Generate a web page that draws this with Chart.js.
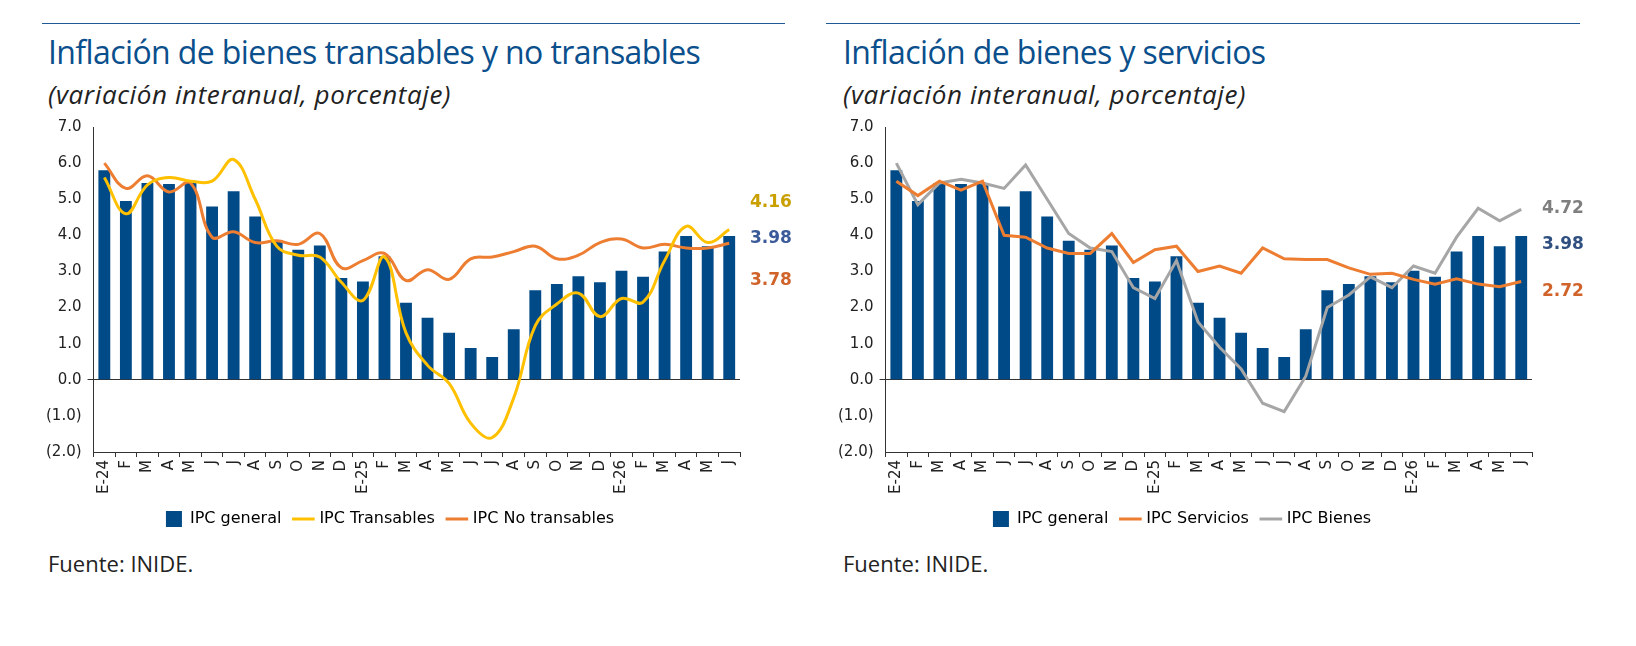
<!DOCTYPE html>
<html><head><meta charset="utf-8">
<script src="https://cdn.jsdelivr.net/npm/chart.js@4"></script>
<style>
body{margin:0;background:#fff;width:1636px;height:646px;position:relative;font-family:"DejaVu Sans",sans-serif;}
.rule{position:absolute;top:23px;height:1px;background:#1f5a96;}
.title{position:absolute;top:30px;font-family:"Open Sans",sans-serif;font-size:32px;color:#0b4f8c;letter-spacing:-0.6px;}
.sub{position:absolute;top:76px;font-family:"Open Sans",sans-serif;font-style:italic;font-size:26px;color:#222;letter-spacing:0.6px;}
.src{position:absolute;top:548px;font-family:"Open Sans",sans-serif;font-size:22px;color:#222;}
.box{position:absolute;top:112px;width:770px;height:425px;}
</style></head><body>
<div class="rule" style="left:42px;width:743px"></div>
<div class="title" style="left:48px">Inflación de bienes transables y no transables</div>
<div class="sub" style="left:48px">(variación interanual, porcentaje)</div>
<div class="box" style="left:40px"><canvas id="c1"></canvas></div>
<div class="src" style="left:48px">Fuente: INIDE.</div>

<div class="rule" style="left:826px;width:754px"></div>
<div class="title" style="left:843px">Inflación de bienes y servicios</div>
<div class="sub" style="left:843px">(variación interanual, porcentaje)</div>
<div class="box" style="left:832px"><canvas id="c2"></canvas></div>
<div class="src" style="left:843px">Fuente: INIDE.</div>
<script>
const months = ['E-24','F','M','A','M','J','J','A','S','O','N','D','E-25','F','M','A','M','J','J','A','S','O','N','D','E-26','F','M','A','M','J'];
const ipcGeneral = [5.8,4.95,5.45,5.42,5.45,4.8,5.22,4.52,3.85,3.6,3.72,2.82,2.72,3.42,2.13,1.72,1.3,0.88,0.63,1.4,2.48,2.65,2.87,2.7,3.02,2.85,3.55,3.98,3.7,3.98];
const ipcTransables = [5.6,4.6,5.4,5.6,5.5,5.5,6.1,5.0,3.7,3.45,3.4,2.7,2.2,3.4,1.3,0.4,-0.1,-1.2,-1.6,-0.5,1.5,2.1,2.4,1.75,2.25,2.15,3.3,4.25,3.8,4.16];
const ipcNoTransables = [6.0,5.3,5.65,5.2,5.45,3.95,4.1,3.8,3.85,3.75,4.05,3.1,3.3,3.5,2.75,3.05,2.78,3.35,3.4,3.55,3.7,3.35,3.45,3.8,3.9,3.65,3.75,3.65,3.65,3.78];
const ipcServicios = [5.5,5.1,5.5,5.25,5.5,4.0,3.95,3.65,3.5,3.5,4.05,3.25,3.6,3.7,3.0,3.15,2.95,3.65,3.35,3.33,3.33,3.1,2.92,2.95,2.78,2.65,2.8,2.65,2.58,2.72];
const ipcBienes = [6.0,4.85,5.45,5.55,5.45,5.3,5.95,5.0,4.05,3.65,3.55,2.55,2.25,3.3,1.6,0.9,0.3,-0.65,-0.88,0.1,2.0,2.35,2.85,2.55,3.15,2.95,3.95,4.75,4.4,4.72];

const tickFont = {family:'DejaVu Sans', size:15};
const endLabels = {
  id:'endLabels',
  afterDatasetsDraw(chart, args, opts){
    const ctx = chart.ctx, y = chart.scales.y;
    ctx.save();
    ctx.font = 'bold 17px "DejaVu Sans"';
    ctx.textBaseline = 'middle';
    opts.items.forEach(it => {
      ctx.fillStyle = it.color;
      ctx.fillText(it.text, chart.chartArea.right + 10, y.getPixelForValue(it.at));
    });
    ctx.restore();
  }
};
function makeChart(id, lines, labels, tension){
  const datasets = lines.map(l => ({type:'line', label:l.label, data:l.data, borderColor:l.color,
      backgroundColor:l.color, borderWidth:3, pointRadius:0, tension:tension, order:1}));
  datasets.push({type:'bar', label:'IPC general', data:ipcGeneral, backgroundColor:'#004a87',
      barPercentage:0.55, categoryPercentage:1, order:2});
  datasets.unshift(datasets.pop());
  new Chart(document.getElementById(id), {
    data:{labels:months, datasets},
    plugins:[endLabels],
    options:{
      responsive:true, maintainAspectRatio:false, animation:false,
      layout:{padding:{right:70, top:6}},
      plugins:{
        endLabels:{items:labels},
        tooltip:{enabled:false},
        legend:{position:'bottom', labels:{usePointStyle:true, padding:14, font:{family:'DejaVu Sans', size:16}, color:'#222',
          generateLabels(chart){
            return chart.data.datasets.map((d,i) => ({text:d.label, fillStyle:d.backgroundColor,
              strokeStyle:d.backgroundColor, lineWidth:d.type==='bar'?0:3,
              pointStyle:d.type==='bar'?'rect':'line', datasetIndex:i}));
          }}}
      },
      scales:{
        x:{grid:{display:true, drawOnChartArea:false, tickLength:5, color:'#333'}, border:{color:'#333'},
           ticks:{font:tickFont, color:'#222', minRotation:90, maxRotation:90, autoSkip:false}},
        y:{min:-2, max:7, ticks:{stepSize:1, font:tickFont, color:'#222', padding:6,
             callback:v => v < 0 ? '(' + Math.abs(v).toFixed(1) + ')' : v.toFixed(1)},
           grid:{drawOnChartArea:true, tickLength:6,
             color:c => c.tick && c.tick.value === 0 ? '#333' : 'rgba(0,0,0,0)'},
           border:{color:'#333'}}
      }
    }
  });
}
makeChart('c1', [
  {label:'IPC Transables', data:ipcTransables, color:'#ffc000'},
  {label:'IPC No transables', data:ipcNoTransables, color:'#ed7d31'}
], [
  {text:'4.16', at:4.9, color:'#c9a000'},
  {text:'3.98', at:3.9, color:'#3a5a99'},
  {text:'3.78', at:2.75, color:'#d0632a'}
], 0.4);
makeChart('c2', [
  {label:'IPC Servicios', data:ipcServicios, color:'#ed7d31'},
  {label:'IPC Bienes', data:ipcBienes, color:'#a6a6a6'}
], [
  {text:'4.72', at:4.75, color:'#7f7f7f'},
  {text:'3.98', at:3.75, color:'#2f4f80'},
  {text:'2.72', at:2.45, color:'#d0632a'}
], 0);
</script>
</body></html>
